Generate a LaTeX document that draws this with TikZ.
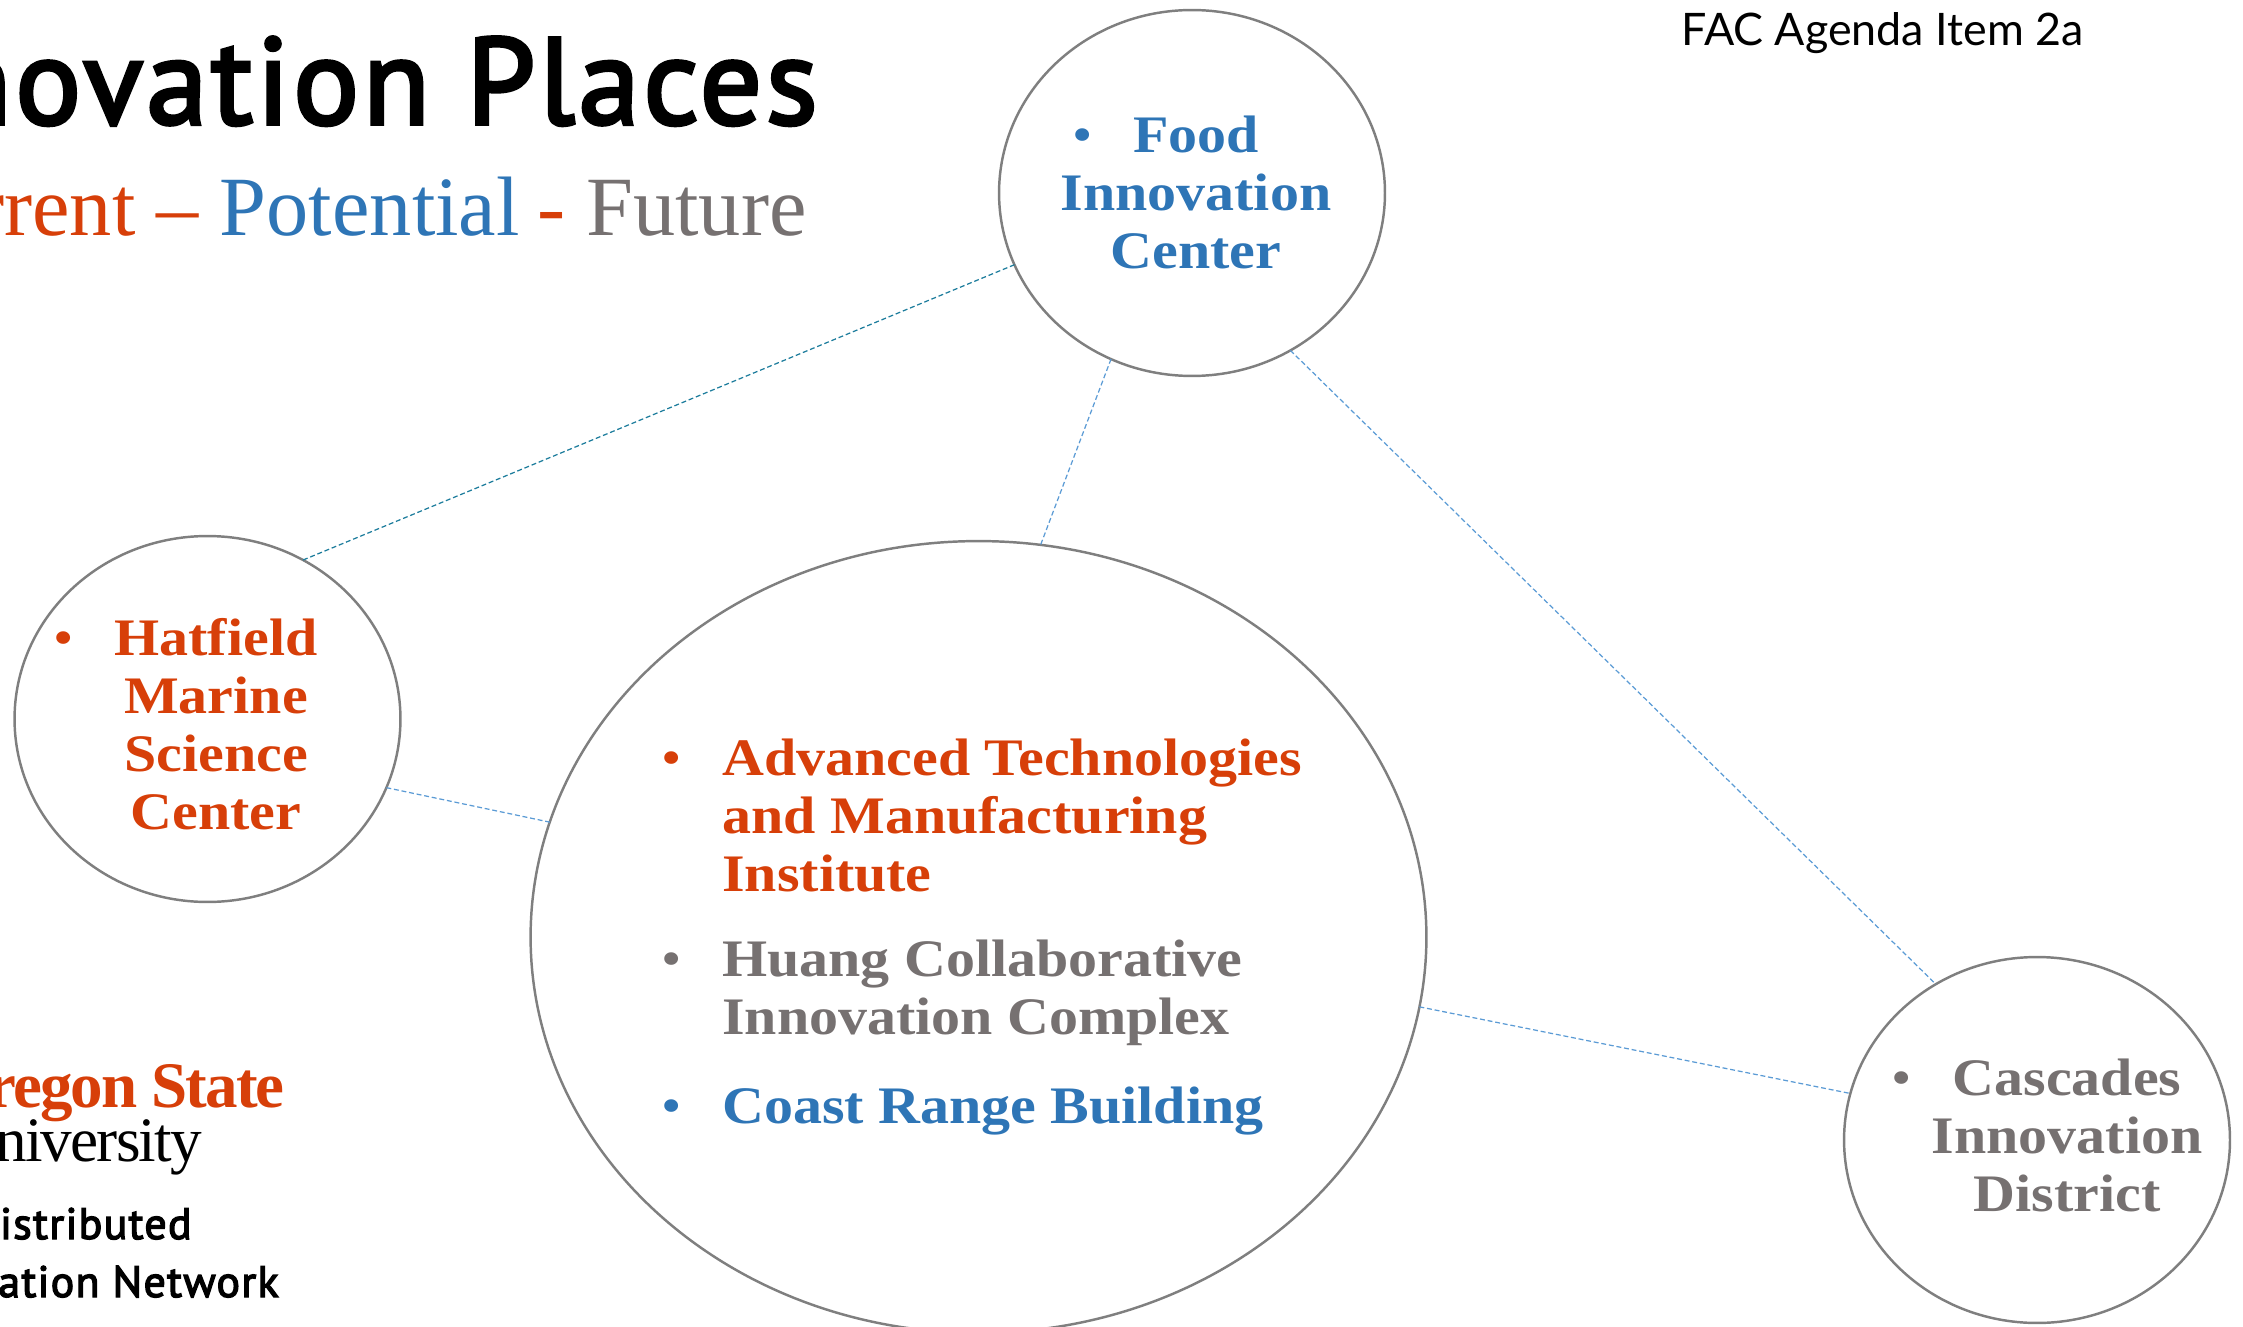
\documentclass[tikz,border=0pt]{standalone}
\usepackage{fontspec}
\setmainfont{Liberation Serif}
\newfontfamily\placefont[FakeStretch=1.1]{Liberation Serif}
\newfontfamily\logofont[LetterSpace=-3]{Liberation Serif}
\newfontfamily\titlefont[FakeBold=3,LetterSpace=3]{PT Sans}
\newfontfamily\agendafont{Lato}
\usetikzlibrary{positioning,shapes.geometric}

\definecolor{osuorange}{HTML}{D73F09}
\definecolor{placeblue}{HTML}{2E75B6}
\definecolor{placegray}{HTML}{767171}
\definecolor{ringgray}{HTML}{7F7F7F}
\definecolor{linkblue}{HTML}{5B9BD5}
\definecolor{linkteal}{HTML}{1C7C9C}

\newcommand{\placebullet}{\leavevmode\llap{\textmd{\textbullet}\hspace{23pt}}}

\begin{document}
\begin{tikzpicture}[x=0.02cm,y=-0.02cm,inner sep=0pt,
  ring/.style={ellipse,draw=ringgray,line width=1.4pt,outer sep=0pt,
    minimum width=7.72cm,minimum height=7.32cm},
  bigring/.style={ring,minimum width=17.92cm,minimum height=15.84cm},
  place/.style={align=center,font=\placefont\fontsize{30}{33}\selectfont\bfseries},
  itemlist/.style={place,align=left,anchor=west},
  link/.style={draw=linkblue,line width=0.7pt,dash pattern=on 2.8pt off 1.6pt},
  title/.style={anchor=base east,font=\titlefont\fontsize{70}{70}\selectfont},
  network/.style={anchor=base east,font=\titlefont\fontsize{25}{25}\selectfont}
  ]

  \useasboundingbox (0,0) rectangle (2243,1327);
  \clip (0,0) rectangle (2243,1327);

  % circles
  \node[ring] (food) at (1192,193) {};
  \node[ring] (hatfield) at (207.5,719) {};
  \node[bigring] (corvallis) at (978.5,937) {};
  \node[ring] (cascades) at (2037,1140) {};

  % dashed links
  \draw[link,draw=linkteal] (food.202) -- (hatfield.59.3);
  \draw[link] (food.244.6) -- (corvallis.81);
  \draw[link] (food.302.8) -- (cascades.123.5);
  \draw[link] (hatfield.-21) -- (corvallis.165.3);
  \draw[link] (corvallis.-9.2) -- (cascades.166.3);

  % circle texts
  \node[place,text=placeblue] (foodtext) at (1196,192)
  {\placebullet Food\\Innovation\\Center};
  \node[place,text=osuorange] (hatfieldtext) at (216,724)
  {\placebullet Hatfield\\Marine\\Science\\Center};
  \node[place,text=placegray] (cascadestext) at (2067,1135)
  {\placebullet Cascades\\Innovation\\District};
  \node[itemlist,text=osuorange] (atami) at (722,816)
  {\placebullet Advanced Technologies\\and Manufacturing\\Institute};
  \node[itemlist,text=placegray] (huang) at (722,993)
  {\placebullet Huang Collaborative\\Innovation Complex};
  \node[itemlist,text=placeblue] (coast) at (722,1111)
  {\placebullet Coast Range Building};

  % headings
  \node[title] (heading) at (818,124) {Innovation Places};
  \node[anchor=base east,font=\fontsize{48}{48}\selectfont] (legend) at (807,236)
  {\textcolor{osuorange}{Current --} \textcolor{placeblue}{Potential}\hspace{-2pt} \textcolor{osuorange}{-}
    \textcolor{placegray}{Future}};
  \node[anchor=base east,font=\agendafont\fontsize{25.5}{25.5}\selectfont] (agenda) at (2084,46)
  {FAC Agenda Item 2a};

  % logo
  \node[anchor=base east,text=osuorange,font=\logofont\fontsize{37}{37}\selectfont\bfseries] (oregon) at (285,1107)
  {Oregon State};
  \node[anchor=base east,font=\logofont\fontsize{36}{36}\selectfont] (university) at (202,1161)
  {University};
  \node[network] (distributed) at (192,1239) {Distributed};
  \node[network] (network) at (279,1297) {Innovation Network};
\end{tikzpicture}
\end{document}
